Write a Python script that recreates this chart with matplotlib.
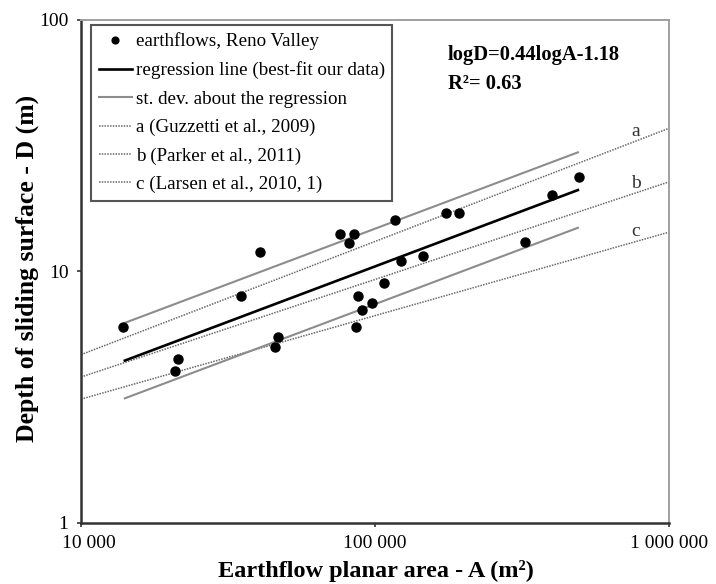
import numpy as np
import matplotlib
matplotlib.use("Agg")
import matplotlib.pyplot as plt
from matplotlib.ticker import FixedLocator, NullLocator
from matplotlib.transforms import ScaledTranslation

plt.rcParams['font.family'] = ['Liberation Serif', 'DejaVu Serif']

# Earthflows, Reno Valley
area = [13860, 20830, 21380, 34920, 40620, 45790, 46680, 76030, 81370,
        85040, 85980, 87330, 90130, 97450, 107720, 116960, 123030, 146000,
        174700, 193100, 323700, 401000, 493000]
depth = [6.0, 4.02, 4.49, 8.01, 11.99, 5.0, 5.51, 14.06, 13.02,
         14.06, 6.0, 8.01, 7.01, 7.49, 9.03, 16.02, 11.01, 11.53,
         17.03, 17.03, 13.06, 20.15, 23.83]

# regression: logD = 0.44 logA - 1.18, +/- one st. dev.
reg_slope = 0.44
reg_icpt = -1.18
reg_sd = 0.15
reg_range = [14100, 490000]

# literature relations D = eps * A^(alpha-1)
lit_names = ['a (Guzzetti et al., 2009)', 'b (Parker et al., 2011)',
             'c (Larsen et al., 2010, 1)']
lit_tags = ['a', 'b', 'c']
lit_eps = [0.074, 0.1067, 0.146]
lit_exp = [0.45, 0.388, 0.332]
lit_range = [10000, 1000000]
tag_x = 7.73e5

fig = plt.figure(figsize=(7.16, 5.84), dpi=100)
ax = fig.add_axes([0.1131, 0.1045, 0.8212, 0.8613])
ax.set_xscale('log')
ax.set_yscale('log')
ax.set_xlim(1e4, 1e6)
ax.set_ylim(1, 100)

ax.plot(area, depth, 'o', color='black', ms=6.5, ls='none',
        label='earthflows, Reno Valley', zorder=5)

xr = np.array(reg_range, dtype=float)
yr = 10 ** (reg_slope * np.log10(xr) + reg_icpt)
ax.plot(xr, yr, color='black', lw=1.9, label='regression line (best-fit our data)', zorder=4)
ax.plot(xr, yr * 10 ** reg_sd, color='#8c8c8c', lw=1.5,
        label='st. dev. about the regression', zorder=3)
ax.plot(xr, yr / 10 ** reg_sd, color='#8c8c8c', lw=1.5, zorder=3)

xl = np.array(lit_range, dtype=float)
for name, tag, eps, ex in zip(lit_names, lit_tags, lit_eps, lit_exp):
    yl = eps * xl ** ex
    ax.plot(xl, yl, color='#6a6a6a', lw=1.1, ls=(0, (1, 0.8)), label=name, zorder=2)
    ax.annotate(tag, (tag_x, eps * tag_x ** ex), xytext=(0, 7),
                textcoords='offset points', fontsize=14, ha='center',
                va='center', color='#333333')

ax.text(0.624, 0.930, 'logD=0.44logA-1.18', transform=ax.transAxes,
        fontsize=14.8, fontweight='bold', va='center')
ax.text(0.624, 0.873, 'R²= 0.63', transform=ax.transAxes,
        fontsize=14.8, fontweight='bold', va='center')

ax.xaxis.set_major_locator(FixedLocator([1e4, 1e5, 1e6]))
ax.xaxis.set_minor_locator(NullLocator())
ax.set_xticklabels(['10 000', '100 000', '1 000 000'])
ax.yaxis.set_major_locator(FixedLocator([1, 10, 100]))
ax.yaxis.set_minor_locator(NullLocator())
ax.set_yticklabels(['1', '10', '100'])
ax.tick_params(axis='both', which='major', direction='out', length=3,
               width=1.2, labelsize=14, pad=6, color='#333333')
# first x label sits a little to the right in the original
first = ax.get_xticklabels()[0]
first.set_transform(first.get_transform() + ScaledTranslation(0.08, 0, fig.dpi_scale_trans))

for s in ['left', 'bottom']:
    ax.spines[s].set_color('#333333')
    ax.spines[s].set_linewidth(1.8)
for s in ['top', 'right']:
    ax.spines[s].set_color('#a0a0a0')
    ax.spines[s].set_linewidth(1.4)

fig.text(376 / 716, 7 / 584, 'Earthflow planar area - A (m²)', fontsize=17.5,
         fontweight='bold', ha='center', va='baseline')
fig.text(27 / 716, 1 - 268 / 584, 'Depth of sliding surface - D (m)', fontsize=18.5,
         fontweight='bold', ha='center', va='center', rotation=90)

leg = ax.legend(loc='upper left', bbox_to_anchor=(0.017, 0.99), fontsize=13.7,
                frameon=True, fancybox=False, framealpha=1, edgecolor='#555555',
                handlelength=1.75, handletextpad=0.2, labelspacing=0.58,
                borderpad=0.4, borderaxespad=0, markerscale=0.75)
leg.get_frame().set_linewidth(1.5)

fig.savefig('out.png', dpi=100)
